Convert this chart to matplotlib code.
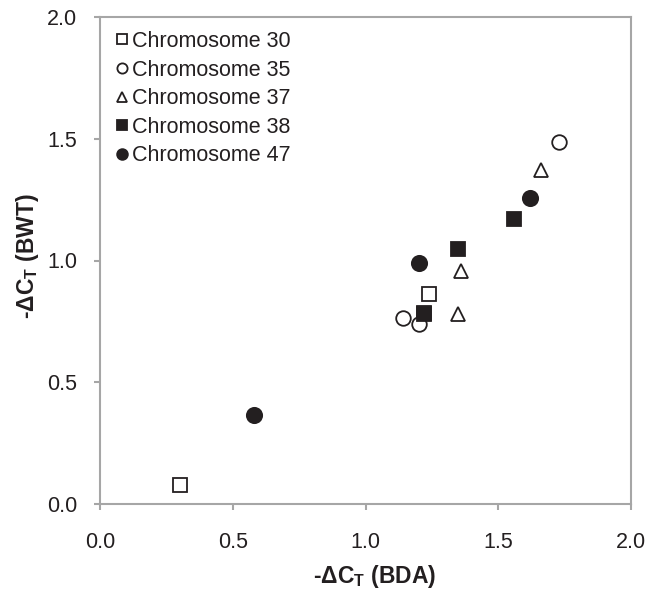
import matplotlib
matplotlib.use("Agg")
import matplotlib.pyplot as plt

plt.rcParams['font.family'] = ['Liberation Sans', 'DejaVu Sans']
plt.rcParams['mathtext.fontset'] = 'custom'
plt.rcParams['mathtext.rm'] = 'Liberation Sans:bold'
plt.rcParams['mathtext.bf'] = 'Liberation Sans:bold'

series_names = ["Chromosome 30", "Chromosome 35", "Chromosome 37", "Chromosome 38", "Chromosome 47"]
chr30_x = [0.30, 1.22, 1.24]
chr30_y = [0.08, 0.785, 0.864]
chr35_x = [1.14, 1.20, 1.73]
chr35_y = [0.764, 0.738, 1.485]
chr37_x = [1.35, 1.36, 1.66]
chr37_y = [0.781, 0.955, 1.37]
chr38_x = [1.22, 1.35, 1.56]
chr38_y = [0.779, 1.047, 1.169]
chr47_x = [0.58, 1.20, 1.62]
chr47_y = [0.367, 0.988, 1.258]

ticks = [0.0, 0.5, 1.0, 1.5, 2.0]
tick_labels = ["0.0", "0.5", "1.0", "1.5", "2.0"]

fig = plt.figure(figsize=(6.48, 5.9), dpi=100)
ax = fig.add_axes([100/648, 86/590, 531/648, 487/590])

ink = '#231f20'
ms = 10.5
mew = 1.3
ax.plot(chr30_x, chr30_y, 's', ms=ms, mfc='white', mec=ink, mew=mew, label=series_names[0])
ax.plot(chr35_x, chr35_y, 'o', ms=ms, mfc='white', mec=ink, mew=mew, label=series_names[1])
ax.plot(chr37_x, chr37_y, '^', ms=ms, mfc='white', mec=ink, mew=mew, label=series_names[2])
ax.plot(chr38_x, chr38_y, 's', ms=ms, mfc=ink, mec=ink, mew=mew, label=series_names[3])
ax.plot(chr47_x, chr47_y, 'o', ms=ms + 0.5, mfc=ink, mec=ink, mew=mew, label=series_names[4])

ax.set_xlim(0, 2)
ax.set_ylim(0, 2)
ax.set_xticks(ticks)
ax.set_xticklabels(tick_labels)
ax.set_yticks(ticks)
ax.set_yticklabels(tick_labels)

gray = '#a6a6a6'
for s in ax.spines.values():
    s.set_color(gray)
    s.set_linewidth(1.5)
ax.tick_params(axis='both', direction='out', length=4.3, width=1.5, color=gray,
               labelsize=15.5, labelcolor=ink)
ax.tick_params(axis='y', pad=12)
ax.tick_params(axis='x', pad=15.5)

ax.set_xlabel('-ΔC$_\\mathrm{T}$ (BDA)', fontsize=16.5, fontweight='bold', color=ink, va='center')
ax.set_ylabel('-ΔC$_\\mathrm{T}$ (BWT)', fontsize=16.5, fontweight='bold', color=ink, va='center')
ax.xaxis.set_label_coords(0.518, -0.148)
ax.yaxis.set_label_coords(-0.1356, 0.51)

leg = ax.legend(loc='upper left', frameon=False, fontsize=15.5, markerscale=0.7,
                handlelength=0.75, handletextpad=0.08, labelspacing=0.35,
                borderaxespad=0.2, borderpad=0.45)
for t in leg.get_texts():
    t.set_color(ink)

fig.savefig('out.png', dpi=100)
